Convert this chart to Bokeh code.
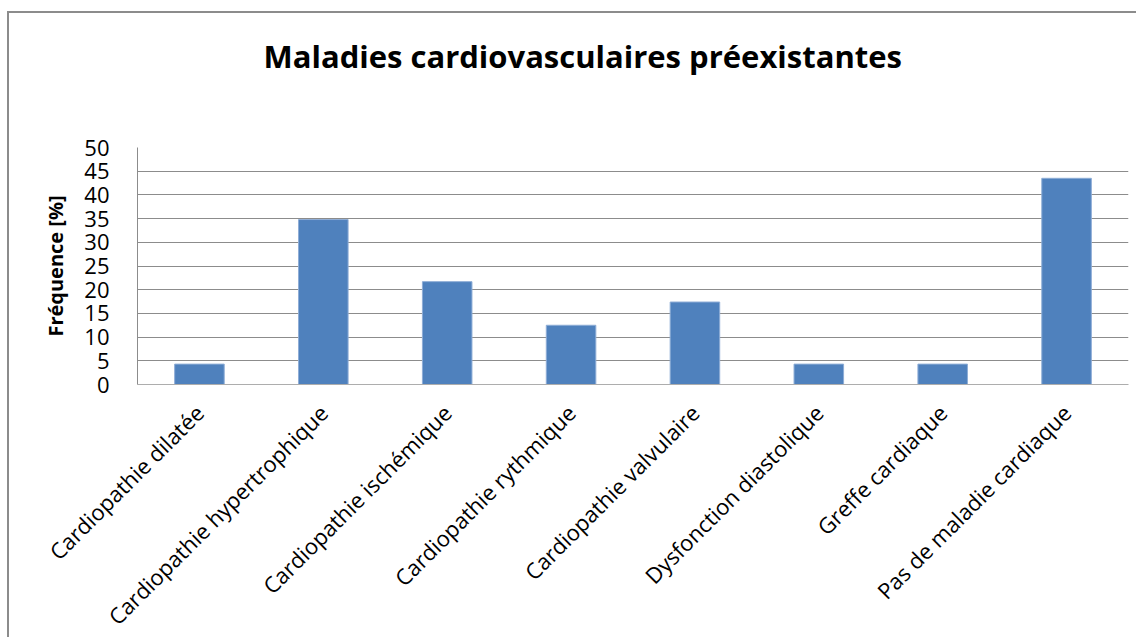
from math import pi
from bokeh.plotting import figure
from bokeh.models import FactorRange, Range1d, SingleIntervalTicker, Title
from bokeh.embed import file_html
from bokeh.resources import INLINE

title_text = "Maladies cardiovasculaires préexistantes"
y_title = "Fréquence [%]"
categories = [
    "Cardiopathie dilatée",
    "Cardiopathie hypertrophique",
    "Cardiopathie ischémique",
    "Cardiopathie rythmique",
    "Cardiopathie valvulaire",
    "Dysfonction diastolique",
    "Greffe cardiaque",
    "Pas de maladie cardiaque",
]
values = [4.3, 34.8, 21.7, 12.5, 17.4, 4.3, 4.3, 43.5]

FONT = "Open Sans"
GRID = "#8C8C8C"

p = figure(
    x_range=FactorRange(*categories),
    y_range=Range1d(0, 50),
    frame_width=991, frame_height=237,
    min_border_left=128, min_border_right=8,
    min_border_top=134, min_border_bottom=245,
    output_backend="svg", toolbar_location=None,
)
p.styles = {"border-top": "2px solid #8C8C8C", "border-left": "2px solid #8C8C8C",
            "margin-top": "11px", "margin-left": "7px"}

p.title.text = title_text
p.title.align = "left"
p.title.offset = 126
p.title.text_font = FONT
p.title.text_font_style = "bold"
p.title.text_font_size = "31px"
p.title.text_color = "#000000"

# empty spacer between the title and the plot area
p.add_layout(Title(text=" ", text_font_size="49px", standoff=10), "above")

p.vbar(x=categories, top=values, width=0.4,
       fill_color="#4F81BD", line_color="#8EADD6", line_width=1)

p.outline_line_color = None
p.xgrid.grid_line_color = None
p.ygrid.grid_line_color = GRID
p.ygrid.grid_line_width = 1

p.yaxis.ticker = SingleIntervalTicker(interval=5)
p.yaxis.axis_line_color = GRID
p.yaxis.major_tick_line_color = None
p.yaxis.minor_tick_line_color = None
p.yaxis.major_tick_out = 0
p.yaxis.major_tick_in = 0
p.yaxis.major_label_standoff = 24
p.yaxis.major_label_text_font = FONT
p.yaxis.major_label_text_font_size = "22px"
p.yaxis.major_label_text_color = "#000000"
p.yaxis.axis_label = y_title
p.yaxis.axis_label_text_font = FONT
p.yaxis.axis_label_text_font_style = "bold"
p.yaxis.axis_label_text_font_size = "20px"
p.yaxis.axis_label_text_color = "#000000"
p.yaxis.axis_label_standoff = 12

p.xaxis.axis_line_color = "#ADADAD"
p.xaxis.major_tick_line_color = None
p.xaxis.minor_tick_line_color = None
p.xaxis.major_tick_out = 0
p.xaxis.major_tick_in = 0
p.xaxis.major_label_orientation = pi / 4
p.xaxis.major_label_standoff = 24
p.xaxis.major_label_text_font = FONT
p.xaxis.major_label_text_font_size = "22px"
p.xaxis.major_label_text_color = "#000000"

open("out.html", "w").write(file_html(p, INLINE))
